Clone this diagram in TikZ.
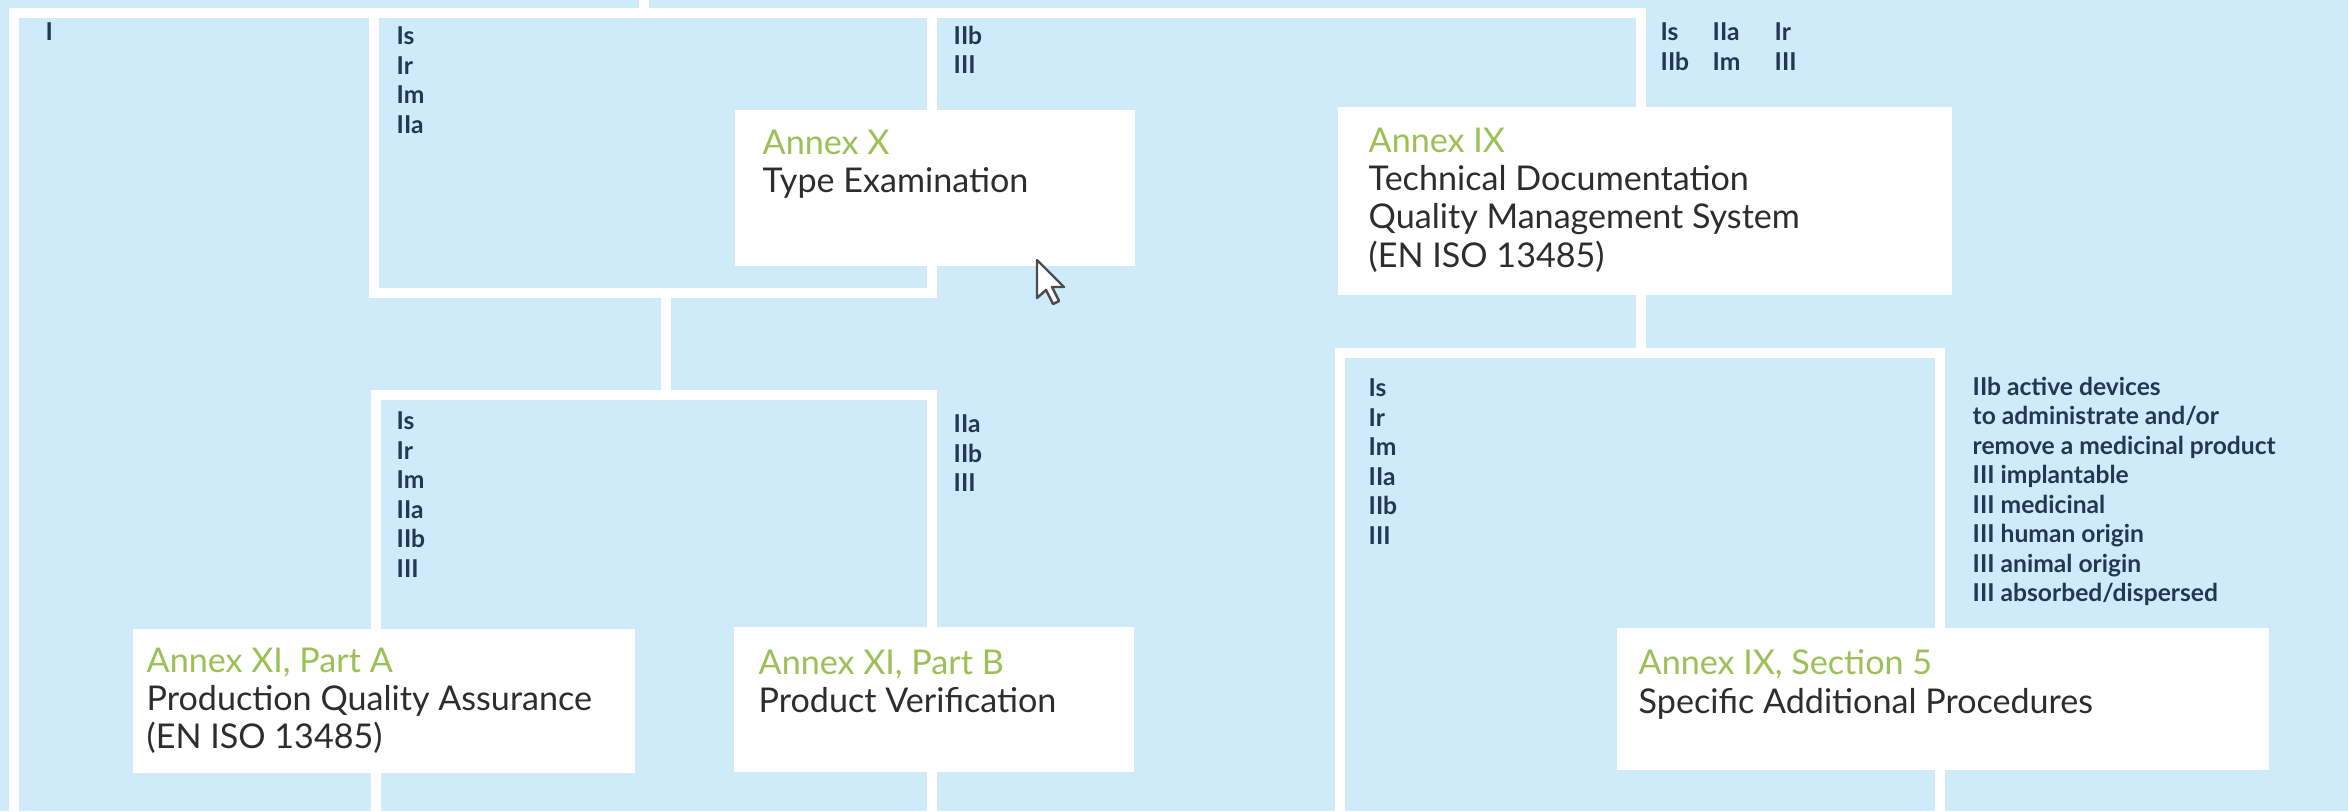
\documentclass[tikz,border=0pt]{standalone}
\usepackage{fontspec}
\setmainfont{Lato}
\definecolor{panelblue}{RGB}{207, 235, 249}
\definecolor{annexgreen}{RGB}{155, 192, 85}
\definecolor{bodygrey}{RGB}{45, 45, 45}
\definecolor{classnavy}{RGB}{35, 55, 85}
\usetikzlibrary{positioning}

\tikzset{
  wline/.style={draw=white, line width=0.1cm},
  annexbox/.style={fill=white, inner sep=0pt, anchor=north west},
  annextext/.style={anchor=north west, inner sep=0pt, align=left, text=bodygrey, font=\fontsize{9.7}{10.9}\selectfont},
  classlbl/.style={anchor=north west, inner sep=0pt, align=left, text=classnavy, font=\fontsize{7}{8.4}\selectfont\bfseries},
}

\begin{document}
\begin{tikzpicture}[x=0.01cm, y=-0.01cm]
  % Background
  \fill[panelblue] (0, 0) rectangle (2348, 811);
  \useasboundingbox (0, 0) rectangle (2348, 811);

  % Junction points of the frame
  \coordinate (stub) at (644, 0);
  \coordinate (stubjoin) at (644, 13);
  \coordinate (topleft) at (14, 13);
  \coordinate (botleft) at (14, 811);
  \coordinate (topright) at (1641, 13);
  \coordinate (ixjoin) at (1641, 353);
  \coordinate (boxAtl) at (374, 13);
  \coordinate (boxAbl) at (374, 293);
  \coordinate (boxAbr) at (932, 293);
  \coordinate (boxAtr) at (932, 13);
  \coordinate (boxAmid) at (666, 293);
  \coordinate (boxBmid) at (666, 395);
  \coordinate (boxBbl) at (376, 811);
  \coordinate (boxBtl) at (376, 395);
  \coordinate (boxBtr) at (932, 395);
  \coordinate (boxBbr) at (932, 811);
  \coordinate (boxCbl) at (1340, 811);
  \coordinate (boxCtl) at (1340, 353);
  \coordinate (boxCtr) at (1940, 353);
  \coordinate (boxCbr) at (1940, 811);

  % White frame
  \draw[wline] (stub) -- (stubjoin);
  \draw[wline] (botleft) -- (topleft) -- (topright) -- (ixjoin);
  \draw[wline] (boxAtl) -- (boxAbl) -- (boxAbr) -- (boxAtr);
  \draw[wline] (boxAmid) -- (boxBmid);
  \draw[wline] (boxBbl) -- (boxBtl) -- (boxBtr) -- (boxBbr);
  \draw[wline] (boxCbl) -- (boxCtl) -- (boxCtr) -- (boxCbr);

  % Annex boxes
  \node[annexbox, minimum width=4cm, minimum height=1.56cm] (annexX) at (734, 109) {};
  \node[annexbox, minimum width=6.14cm, minimum height=1.88cm] (annexIX) at (1337, 106) {};
  \node[annexbox, minimum width=5.02cm, minimum height=1.44cm] (annexXIa) at (132, 628) {};
  \node[annexbox, minimum width=4cm, minimum height=1.45cm] (annexXIb) at (733, 626) {};
  \node[annexbox, minimum width=6.52cm, minimum height=1.42cm] (annexIXsec) at (1616, 627) {};

  \node[annextext] (annexXtxt) at (762, 129) {\textcolor{annexgreen}{Annex X}\\Type Examination};
  \node[annextext] (annexIXtxt) at (1368, 127) {\textcolor{annexgreen}{Annex IX}\\Technical Documentation\\Quality Management System\\(EN ISO 13485)};
  \node[annextext] (annexXIatxt) at (146, 647) {\textcolor{annexgreen}{Annex XI, Part A}\\Production Quality Assurance\\(EN ISO 13485)};
  \node[annextext] (annexXIbtxt) at (758, 649) {\textcolor{annexgreen}{Annex XI, Part B}\\Product Verification};
  \node[annextext] (annexIXsectxt) at (1638, 649) {\textcolor{annexgreen}{Annex IX, Section 5}\\Specific Additional Procedures};

  % Device classes
  \node[classlbl] (clsI) at (45, 22) {I};
  \node[classlbl] (clsAin) at (396, 26) {Is\\Ir\\Im\\IIa};
  \node[classlbl] (clsAout) at (953, 25) {IIb\\III};
  \node[classlbl] (clsTop1) at (1660, 22) {Is\\IIb};
  \node[classlbl] (clsTop2) at (1712, 22) {IIa\\Im};
  \node[classlbl] (clsTop3) at (1774, 22) {Ir\\III};
  \node[classlbl] (clsBin) at (396, 411) {Is\\Ir\\Im\\IIa\\IIb\\III};
  \node[classlbl] (clsBout) at (953, 414) {IIa\\IIb\\III};
  \node[classlbl] (clsCin) at (1368, 378) {Is\\Ir\\Im\\IIa\\IIb\\III};
  \node[classlbl] (clsCout) at (1972, 376) {IIb active devices\\to administrate and/or\\remove a medicinal product\\III implantable\\III medicinal\\III human origin\\III animal origin\\III absorbed/dispersed};

  % Mouse pointer
  \draw[fill=white, draw=gray!60!black, line width=0.7pt, line join=round] (1037, 260) -- (1037, 298) -- (1046, 290) -- (1053, 304) -- (1059, 301) -- (1052, 287) -- (1064, 287) -- cycle;
\end{tikzpicture}
\end{document}
